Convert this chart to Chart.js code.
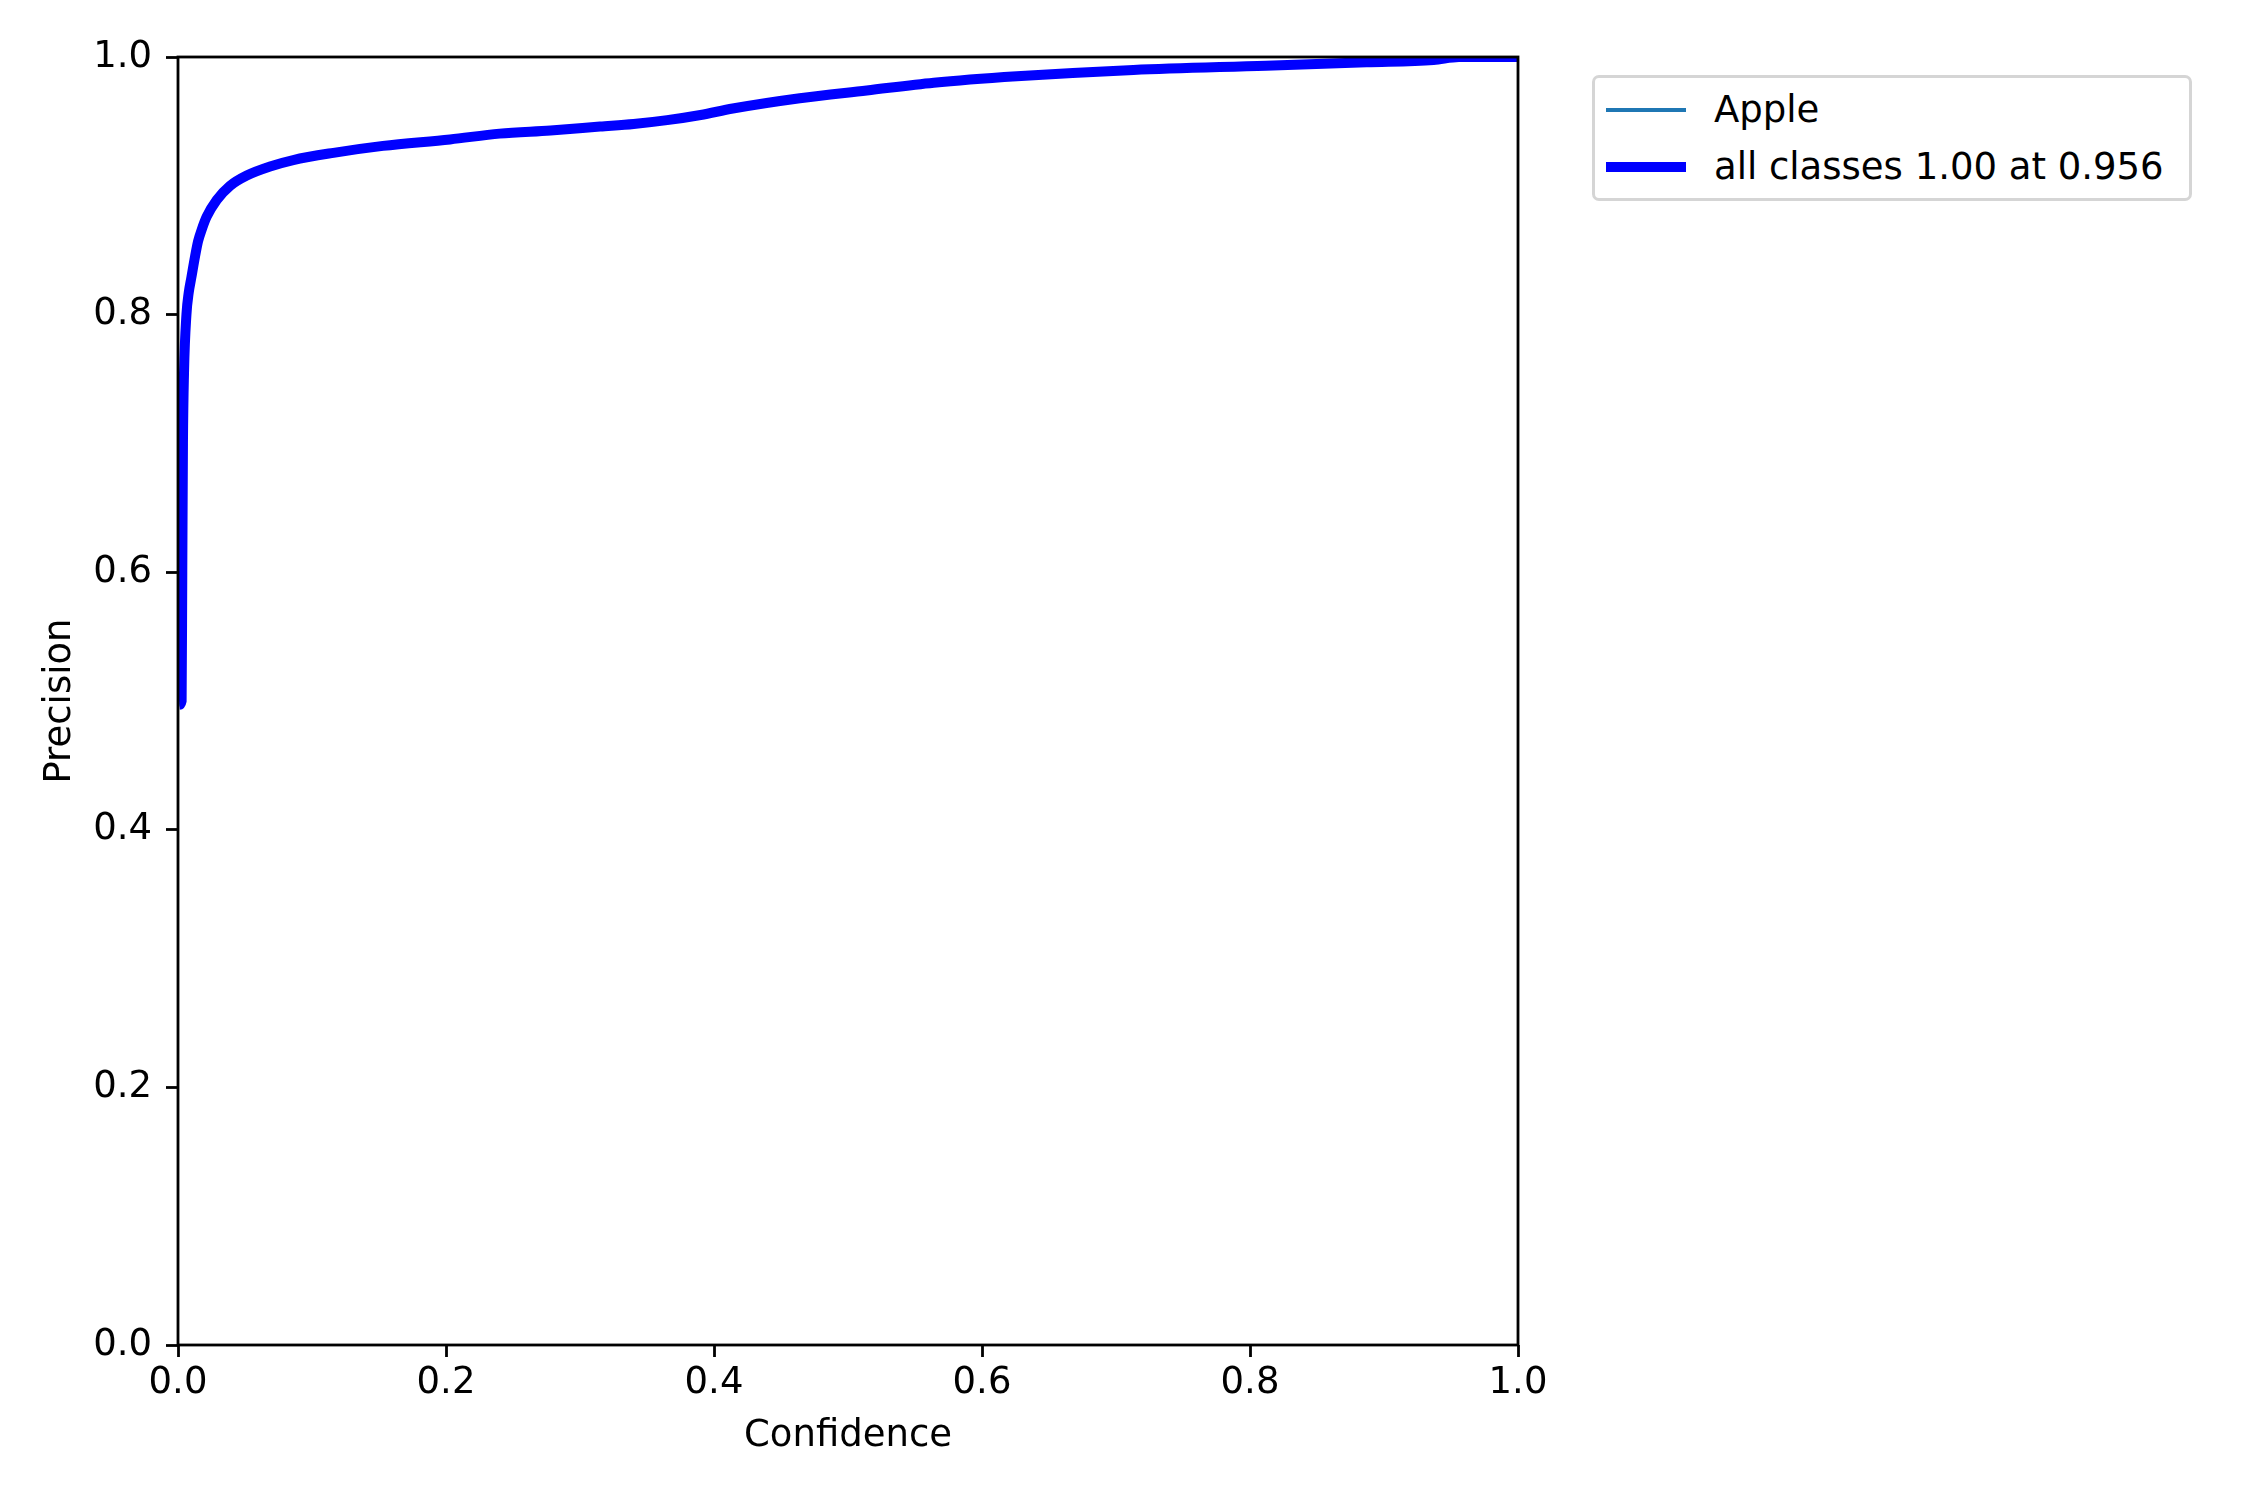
<!DOCTYPE html>
<html>
<head>
<meta charset="utf-8">
<title>Precision-Confidence Curve</title>
<script src="https://cdn.jsdelivr.net/npm/chart.js@4.4.1/dist/chart.umd.min.js"></script>
<style>
  body { margin: 0; background: #fff; }
  #wrap { position: relative; width: 2250px; height: 1500px; }
  #legend {
    position: absolute; left: 1592px; top: 75px; width: 600px; height: 126px;
    box-sizing: border-box; border: 3px solid #d5d5d5; border-radius: 7px; background: #fff;
    font-family: "DejaVu Sans"; font-size: 37px; color: #000;
  }
  .row { position: absolute; left: 0; height: 44px; line-height: 44px; width: 100%; }
  .swatch { position: absolute; left: 11px; width: 80px; }
  .label { position: absolute; left: 119px; white-space: nowrap; }
</style>
</head>
<body>
<div id="wrap">
  <canvas id="myChart" width="2250" height="1500"></canvas>
  <div id="legend"></div>
</div>
<script>
const confidence = [0.001, 0.0027, 0.0032, 0.0037, 0.0045, 0.0063, 0.008, 0.010, 0.0127, 0.015, 0.0177, 0.0214, 0.0289, 0.0388, 0.0513, 0.0687, 0.086, 0.116, 0.153, 0.203, 0.240, 0.278, 0.315, 0.34, 0.365, 0.39, 0.414, 0.464, 0.514, 0.564, 0.626, 0.713, 0.812, 0.887, 0.937, 0.956, 1.0];
const precision = [0.497, 0.500, 0.600, 0.700, 0.755, 0.800, 0.817, 0.829, 0.845, 0.857, 0.866, 0.876, 0.889, 0.900, 0.908, 0.915, 0.920, 0.9256, 0.931, 0.936, 0.9405, 0.943, 0.946, 0.948, 0.951, 0.955, 0.960, 0.968, 0.974, 0.980, 0.985, 0.990, 0.9933, 0.9959, 0.9977, 1.0, 1.0];
// only one class, so the Apple curve is the same as all classes
const applePrecision = precision;
const seriesLabels = ["Apple", "all classes 1.00 at 0.956"];
const tickValues = [0, 0.2, 0.4, 0.6, 0.8, 1.0];

const font = { family: "DejaVu Sans", size: 37 };

toPoints = (xs, ys) => xs.map((x, i) => ({ x: x, y: ys[i] }));

// matplotlib style box around the axes
const frame = {
  id: "frame",
  afterDatasetsDraw: (chart) => {
    const a = chart.chartArea;
    const ctx = chart.ctx;
    ctx.save();
    ctx.strokeStyle = "#000";
    ctx.lineWidth = 2.8;
    ctx.strokeRect(a.left, a.top, a.right - a.left, a.bottom - a.top);
    ctx.restore();
  },
};

makeLegend = (chart) => {
  let box = document.querySelector("#legend");
  chart.data.datasets.forEach((ds, i) => {
    let row = document.createElement("div");
    row.className = "row";
    row.style.top = (10 + i * 57) + "px";
    let sw = document.createElement("div");
    sw.className = "swatch";
    sw.style.height = ds.borderWidth + "px";
    sw.style.top = (22 - ds.borderWidth / 2) + "px";
    sw.style.background = ds.borderColor;
    let lb = document.createElement("span");
    lb.className = "label";
    lb.textContent = ds.label;
    row.appendChild(sw);
    row.appendChild(lb);
    box.appendChild(row);
  });
};

onWindowLoad = () => {
  let ctx = document.getElementById("myChart").getContext("2d");
  let myChart = new Chart(ctx, {
    type: "line",
    data: {
      datasets: [
        {
          label: seriesLabels[0],
          data: toPoints(confidence, applePrecision),
          borderColor: "#1f77b4",
          borderWidth: 3.5,
          pointRadius: 0,
          cubicInterpolationMode: "monotone",
          clip: 0,
          order: 1,
        },
        {
          label: seriesLabels[1],
          data: toPoints(confidence, precision),
          borderColor: "#0000ff",
          borderWidth: 10,
          pointRadius: 0,
          cubicInterpolationMode: "monotone",
          clip: 0,
          order: 0,
        },
      ],
    },
    options: {
      responsive: false,
      animation: false,
      devicePixelRatio: 1,
      layout: { padding: { top: 57, right: 732, left: 0, bottom: 0 } },
      plugins: { legend: { display: false }, tooltip: { enabled: false } },
      scales: {
        x: {
          type: "linear",
          min: 0,
          max: 1,
          afterBuildTicks: (s) => { s.ticks = tickValues.map((v) => ({ value: v })); },
          afterFit: (s) => { s.height = 155; },
          ticks: { font: font, color: "#000", padding: 4, maxRotation: 0, callback: (v) => v.toFixed(1) },
          grid: { drawOnChartArea: false, tickLength: 12, tickWidth: 2.8, tickColor: "#000" },
          border: { display: false },
          title: { display: true, text: "Confidence", font: font, color: "#000", padding: { top: 0, bottom: 41 } },
        },
        y: {
          type: "linear",
          min: 0,
          max: 1,
          afterBuildTicks: (s) => { s.ticks = tickValues.map((v) => ({ value: v })); },
          afterFit: (s) => { s.width = 178; },
          ticks: { font: font, color: "#000", padding: 14, callback: (v) => v.toFixed(1) },
          grid: { drawOnChartArea: false, tickLength: 12, tickWidth: 2.8, tickColor: "#000" },
          border: { display: false },
          title: { display: true, text: "Precision", font: font, color: "#000", padding: { top: 38, bottom: 0 } },
        },
      },
    },
    plugins: [frame],
  });
  makeLegend(myChart);
};

window.onload = onWindowLoad;
</script>
</body>
</html>
